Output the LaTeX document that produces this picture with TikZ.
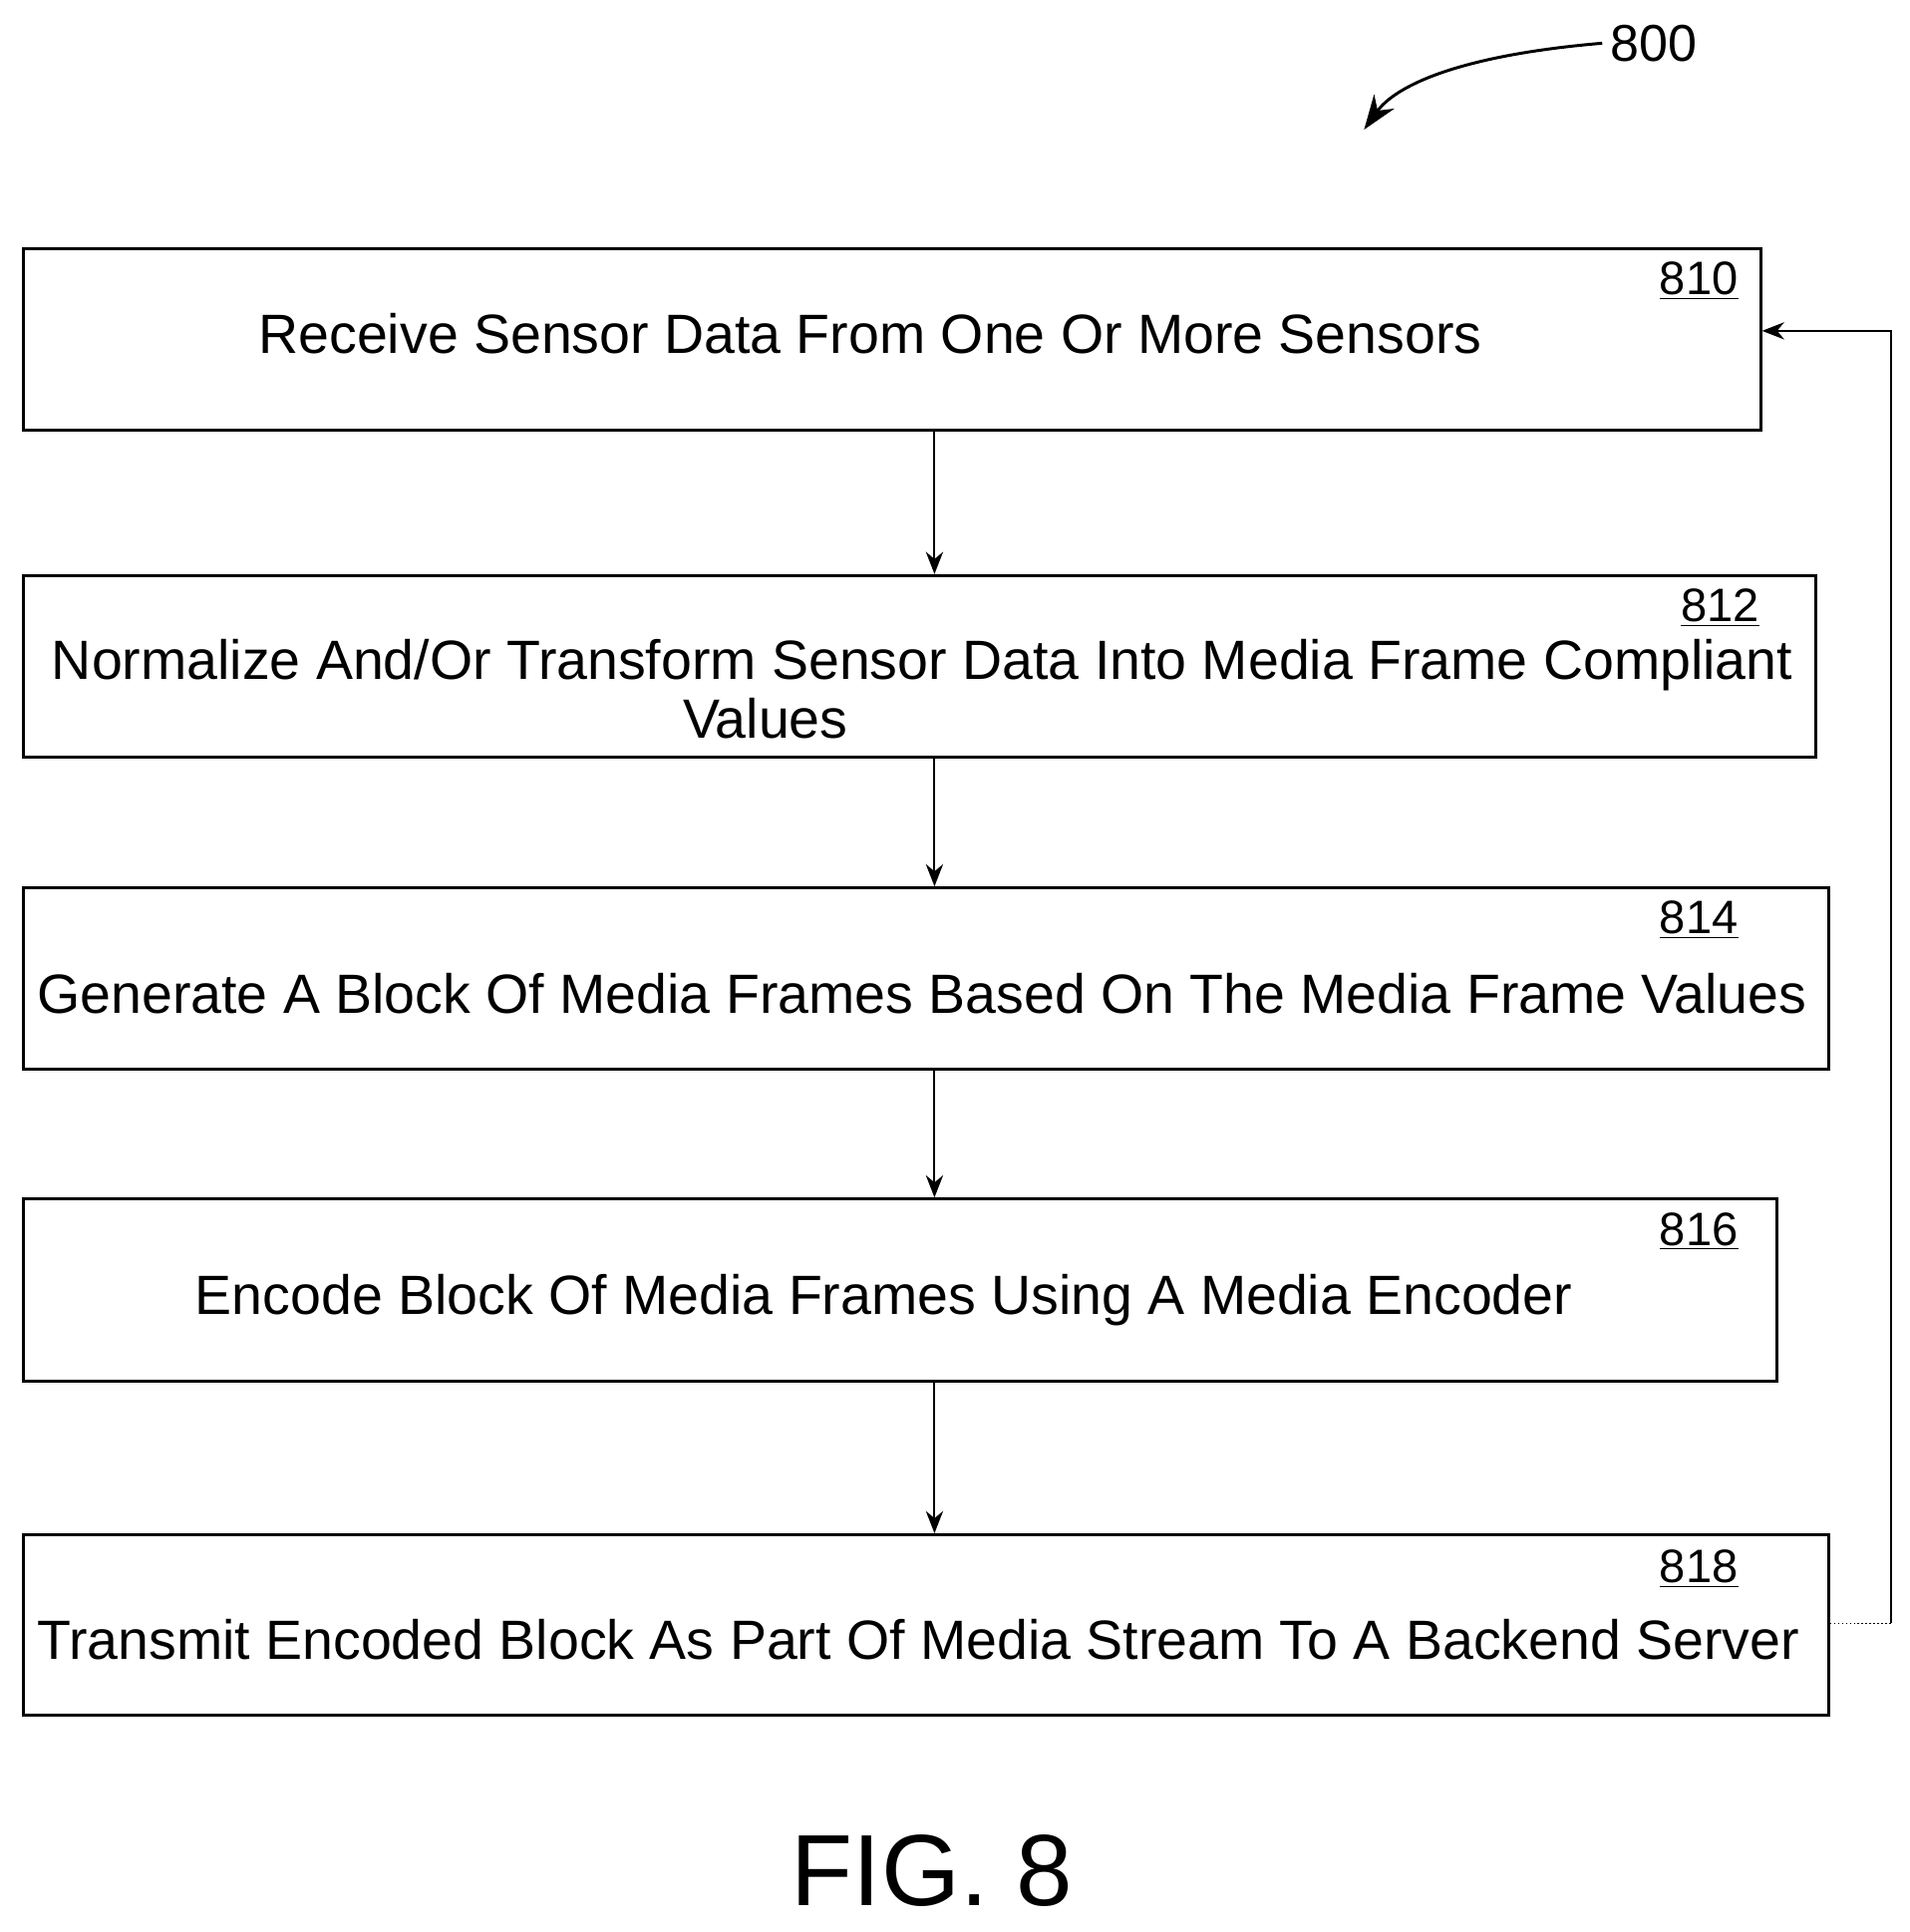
\documentclass[tikz,border=0pt]{standalone}
\usepackage{fontspec}
\setmainfont{Liberation Sans}
\usetikzlibrary{arrows.meta}
\tikzset{
  stepbox/.style={draw, line width=1.2pt, anchor=north west, inner sep=0pt},
  txt/.style={font=\fontsize{22.4}{24}\selectfont, align=center},
  num/.style={anchor=north east, font=\fontsize{19}{22}\selectfont},
  flow/.style={-{Stealth[length=9pt,width=7pt]}, line width=0.8pt}
}
\begin{document}
\begin{tikzpicture}[x=0.5pt,y=-0.5pt]
\useasboundingbox (0,0) rectangle (1547,1565);

\node[stepbox, minimum width=703.5pt, minimum height=73.5pt] (s810) at (18,200) {};
\node[stepbox, minimum width=726pt, minimum height=73.5pt] (s812) at (18,465) {};
\node[stepbox, minimum width=731pt, minimum height=73.5pt] (s814) at (18,718) {};
\node[stepbox, minimum width=710pt, minimum height=74pt] (s816) at (18,970) {};
\node[stepbox, minimum width=731pt, minimum height=73pt] (s818) at (18,1242) {};

\node[txt] (t810) at (705,270) {Receive Sensor Data From One Or More Sensors};
\node[txt] (t812) at (747,558) {Normalize And/Or Transform Sensor Data Into Media Frame Compliant\\\hspace*{-127pt}Values};
\node[txt] (t814) at (747,805) {Generate A Block Of Media Frames Based On The Media Frame Values};
\node[txt] (t816) at (716,1053) {Encode Block Of Media Frames Using A Media Encoder};
\node[txt] (t818) at (744,1328) {Transmit Encoded Block As Part Of Media Stream To A Backend Server};

\node[num] (l810) at (1415,205) {\underline{810}};
\node[num] (l812) at (1432,470) {\underline{812}};
\node[num] (l814) at (1415,723) {\underline{814}};
\node[num] (l816) at (1415,975) {\underline{816}};
\node[num] (l818) at (1415,1248) {\underline{818}};

\draw[flow] (s810.south -| 757,0) -- (s812.north -| 757,0);
\draw[flow] (s812.south -| 757,0) -- (s814.north -| 757,0);
\draw[flow] (s814.south -| 757,0) -- (s816.north -| 757,0);
\draw[flow] (s816.south -| 757,0) -- (s818.north -| 757,0);

\coordinate (r1) at (1532,1315);
\coordinate (r2) at (1532,268);
\draw[densely dotted, line width=0.6pt] (s818.east |- r1) -- (r1);
\draw[flow, line width=0.6pt] (r1) -- (r2) -- (s810.east |- r2);

\node[font=\fontsize{21}{24}\selectfont] (n800) at (1340,35) {800};
\coordinate (c800) at (1105,105);
\draw[-{Stealth[length=14pt,width=10pt]}, line width=1.2pt] (n800.west) .. controls (1180,45) and (1130,70) .. (c800);

\node[font=\fontsize{41}{45}\selectfont] (fig) at (755,1515) {FIG. 8};
\end{tikzpicture}
\end{document}
